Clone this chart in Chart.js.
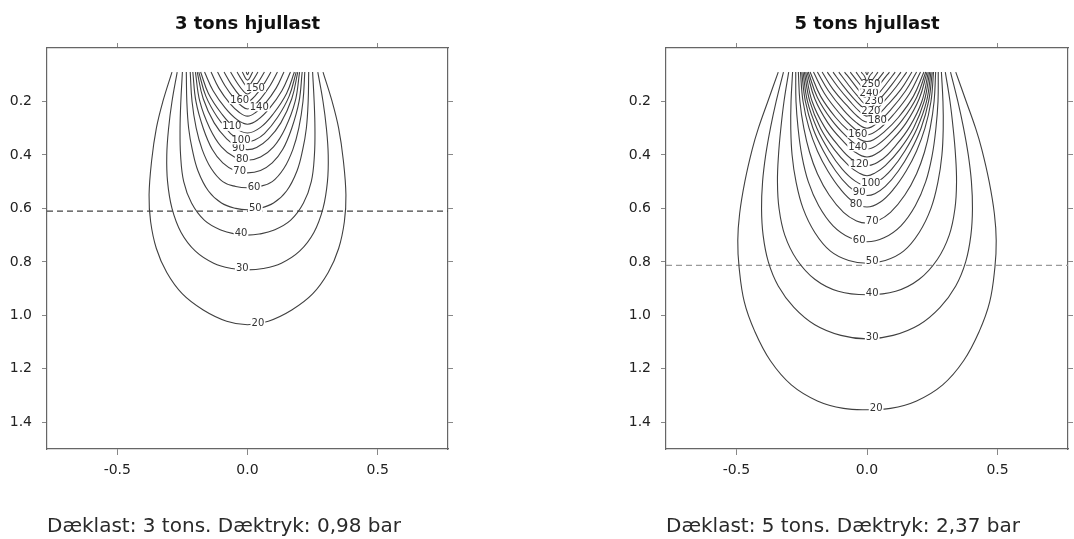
<!DOCTYPE html>
<html><head><meta charset="utf-8">
<script src="https://cdn.jsdelivr.net/npm/chart.js@4.4.1/dist/chart.umd.min.js"></script>
<style>
html,body{margin:0;padding:0;background:#fff;}
#wrap{position:relative;width:1074px;height:539px;overflow:hidden;}
canvas{position:absolute;top:0;}
</style></head><body>
<div id="wrap">
<canvas id="c1" width="537" height="539" style="left:0"></canvas>
<canvas id="c2" width="537" height="539" style="left:537px"></canvas>
</div>
<script>
// ---------- data ----------
const xTicks = [-0.5, 0.0, 0.5];
const yTicks = [0.2, 0.4, 0.6, 0.8, 1.0, 1.2, 1.4];
const xRange = [-0.77, 0.77];
const yRange = [0, 1.5];

const titles = ['3 tons hjullast', '5 tons hjullast'];
const captions = ['Dæklast: 3 tons. Dæktryk: 0,98 bar', 'Dæklast: 5 tons. Dæktryk: 2,37 bar'];
const dashDepth = [0.61, 0.813];

// contour levels and half-profiles [halfWidth, depth] from surface end to centre line
const leftLevels = [20,30,40,50,60,70,80,90,100,110,120,130,140,150,160,170,180,190];
const leftProfiles = [
  [[0.29,0.09],[0.325,0.2],[0.35,0.3],[0.368,0.42],[0.378,0.55],[0.372,0.65],[0.35,0.75],[0.31,0.84],[0.25,0.92],[0.17,0.98],[0.08,1.022],[0,1.035]],
  [[0.27,0.09],[0.29,0.2],[0.303,0.3],[0.31,0.4],[0.307,0.5],[0.29,0.6],[0.255,0.69],[0.2,0.76],[0.13,0.805],[0.06,0.825],[0,0.83]],
  [[0.25,0.09],[0.256,0.2],[0.259,0.3],[0.257,0.4],[0.245,0.5],[0.215,0.58],[0.165,0.645],[0.1,0.682],[0.045,0.696],[0,0.70]],
  [[0.235,0.09],[0.233,0.2],[0.226,0.3],[0.212,0.38],[0.19,0.46],[0.15,0.535],[0.1,0.58],[0.045,0.6],[0,0.605]],
  [[0.22,0.09],[0.213,0.2],[0.197,0.3],[0.174,0.38],[0.14,0.45],[0.095,0.5],[0.045,0.518],[0,0.523]],
  [[0.21,0.09],[0.198,0.2],[0.17,0.3],[0.135,0.38],[0.095,0.43],[0.05,0.458],[0,0.467]],
  [[0.2,0.09],[0.183,0.2],[0.145,0.3],[0.1,0.37],[0.05,0.408],[0,0.42]],
  [[0.193,0.09],[0.17,0.19],[0.128,0.28],[0.08,0.34],[0.035,0.372],[0,0.38]],
  [[0.187,0.09],[0.16,0.18],[0.115,0.26],[0.065,0.32],[0.028,0.344],[0,0.35]],
  [[0.18,0.09],[0.15,0.17],[0.1,0.245],[0.05,0.297],[0,0.318]],
  [[0.165,0.09],[0.132,0.16],[0.085,0.225],[0.04,0.268],[0,0.285]],
  [[0.14,0.09],[0.11,0.15],[0.068,0.207],[0.03,0.242],[0,0.255]],
  [[0.115,0.09],[0.087,0.14],[0.05,0.19],[0.02,0.219],[0,0.228]],
  [[0.09,0.09],[0.063,0.135],[0.03,0.178],[0,0.2]],
  [[0.065,0.09],[0.04,0.13],[0.015,0.162],[0,0.172]],
  [[0.04,0.09],[0.02,0.122],[0,0.145]],
  [[0.02,0.09],[0,0.12]],
  [[0.005,0.09],[0,0.1]]
];
const leftLabelText = ['20','30','40','50','60','70','80','90','100','110','140','160','150'];
const leftLabelX    = [0.04,-0.02,-0.025,0.03,0.025,-0.03,-0.02,-0.035,-0.025,-0.06,0.045,-0.03,0.03];
const leftLabelY    = [1.03,0.826,0.695,0.60,0.52,0.463,0.417,0.376,0.346,0.295,0.222,0.195,0.15];

const rightLevels = [20,30,40,50,60,70,80,90,100,110,120,130,140,150,160,170,180,190,200,210,220,230,240,250,260];
const rightProfiles = [
  [[0.34,0.09],[0.38,0.2],[0.416,0.3],[0.44,0.38],[0.468,0.5],[0.488,0.62],[0.495,0.72],[0.49,0.82],[0.47,0.95],[0.43,1.06],[0.37,1.17],[0.29,1.26],[0.19,1.32],[0.09,1.348],[0,1.353]],
  [[0.32,0.09],[0.348,0.2],[0.37,0.3],[0.388,0.4],[0.4,0.5],[0.404,0.6],[0.398,0.7],[0.378,0.8],[0.34,0.89],[0.28,0.97],[0.2,1.035],[0.1,1.075],[0,1.088]],
  [[0.30,0.09],[0.318,0.2],[0.33,0.3],[0.339,0.4],[0.343,0.5],[0.337,0.6],[0.315,0.7],[0.27,0.79],[0.2,0.865],[0.11,0.91],[0,0.923]],
  [[0.285,0.09],[0.291,0.2],[0.292,0.3],[0.287,0.4],[0.272,0.5],[0.245,0.6],[0.2,0.69],[0.14,0.76],[0.07,0.795],[0,0.805]],
  [[0.273,0.09],[0.272,0.2],[0.264,0.3],[0.25,0.4],[0.225,0.5],[0.185,0.59],[0.13,0.665],[0.065,0.71],[0,0.725]],
  [[0.263,0.09],[0.257,0.2],[0.242,0.3],[0.22,0.39],[0.19,0.47],[0.145,0.55],[0.09,0.615],[0.04,0.647],[0,0.655]],
  [[0.255,0.09],[0.245,0.2],[0.222,0.3],[0.19,0.385],[0.15,0.46],[0.1,0.53],[0.05,0.577],[0,0.595]],
  [[0.25,0.09],[0.236,0.2],[0.207,0.3],[0.167,0.385],[0.12,0.46],[0.07,0.518],[0.03,0.545],[0,0.552]],
  [[0.245,0.09],[0.228,0.2],[0.192,0.3],[0.145,0.385],[0.095,0.453],[0.045,0.498],[0,0.515]],
  [[0.24,0.09],[0.219,0.2],[0.178,0.3],[0.125,0.38],[0.07,0.44],[0.03,0.468],[0,0.478]],
  [[0.235,0.09],[0.21,0.2],[0.163,0.295],[0.11,0.365],[0.06,0.415],[0,0.44]],
  [[0.23,0.09],[0.2,0.19],[0.15,0.28],[0.095,0.345],[0.045,0.39],[0,0.408]],
  [[0.225,0.09],[0.19,0.185],[0.135,0.27],[0.08,0.33],[0.035,0.366],[0,0.378]],
  [[0.218,0.09],[0.178,0.18],[0.12,0.26],[0.065,0.315],[0.025,0.343],[0,0.35]],
  [[0.205,0.09],[0.163,0.17],[0.105,0.245],[0.05,0.3],[0,0.325]],
  [[0.19,0.09],[0.148,0.16],[0.092,0.23],[0.042,0.278],[0,0.30]],
  [[0.172,0.09],[0.13,0.155],[0.077,0.215],[0.035,0.257],[0,0.277]],
  [[0.152,0.09],[0.112,0.145],[0.065,0.2],[0.028,0.238],[0,0.255]],
  [[0.13,0.09],[0.095,0.137],[0.055,0.185],[0.022,0.218],[0,0.233]],
  [[0.108,0.09],[0.077,0.13],[0.04,0.175],[0,0.212]],
  [[0.086,0.09],[0.06,0.122],[0.03,0.16],[0,0.19]],
  [[0.064,0.09],[0.042,0.118],[0.02,0.145],[0,0.168]],
  [[0.042,0.09],[0.024,0.115],[0,0.146]],
  [[0.022,0.09],[0.01,0.105],[0,0.124]],
  [[0.005,0.09],[0,0.1]]
];
const rightLabelText = ['20','30','40','50','60','70','80','90','100','120','140','160','180','220','230','240','250'];
const rightLabelX    = [0.035,0.02,0.02,0.02,-0.03,0.02,-0.042,-0.03,0.015,-0.03,-0.035,-0.035,0.04,0.015,0.027,0.008,0.015];
const rightLabelY    = [1.348,1.083,0.918,0.80,0.718,0.65,0.585,0.54,0.508,0.435,0.372,0.322,0.272,0.236,0.2,0.168,0.138];

// ---------- build ----------
const FONT = '"DejaVu Sans", sans-serif';
function buildContour(profile){
  const left = profile.map(p => ({x: -p[0], y: p[1]}));
  const right = profile.slice(0, -1).reverse().map(p => ({x: p[0], y: p[1]}));
  return left.concat(right);
}
function makeChart(id, idx, levels, profiles, lblT, lblX, lblY, dashColor, pad){
  const datasets = profiles.map((p, i) => ({
    label: String(levels[i]),
    data: buildContour(p),
    showLine: true, tension: 0.4, borderColor: '#404040', borderWidth: 1.1,
    pointRadius: 0, fill: false
  }));
  datasets.push({
    label: 'dash',
    data: [{x: xRange[0], y: dashDepth[idx]}, {x: xRange[1], y: dashDepth[idx]}],
    showLine: true, borderColor: dashColor, borderWidth: 1.2, borderDash: [6, 4], pointRadius: 0, fill: false
  });
  const labelPlugin = {
    id: 'contourLabels' + idx,
    afterDatasetsDraw(chart){
      const {ctx, scales} = chart;
      ctx.save();
      ctx.font = '10px ' + FONT;
      ctx.textAlign = 'center'; ctx.textBaseline = 'middle';
      lblT.forEach((t, i) => {
        const px = scales.x.getPixelForValue(lblX[i]);
        const py = scales.y.getPixelForValue(lblY[i]);
        const w = ctx.measureText(t).width;
        ctx.fillStyle = '#fff';
        ctx.fillRect(px - w/2 - 1, py - 4, w + 2, 8);
        ctx.fillStyle = '#333';
        ctx.fillText(t, px, py);
      });
      ctx.restore();
    }
  };
  const setX = s => { s.ticks = xTicks.map(v => ({value: v})); };
  const setY = s => { s.ticks = yTicks.map(v => ({value: v})); };
  const tickFont = {family: FONT, size: 14};
  return new Chart(document.getElementById(id), {
    type: 'scatter',
    data: {datasets},
    plugins: [labelPlugin],
    options: {
      responsive: false, animation: false, devicePixelRatio: 1,
      layout: {padding: pad},
      plugins: {
        legend: {display: false}, tooltip: {enabled: false},
        title: {display: true, text: titles[idx], fullSize: false, color: '#111',
          font: {family: FONT, size: 18, weight: 'bold'}, padding: {top: 13.2, bottom: 7.2}},
        subtitle: {display: true, position: 'bottom', align: 'start', fullSize: false, text: captions[idx], color: '#2a2a2a',
          font: {family: FONT, size: 20, weight: 'normal'}, padding: {top: 26, bottom: 0}}
      },
      scales: {
        x: {type: 'linear', position: 'bottom', min: xRange[0], max: xRange[1],
          afterBuildTicks: setX, afterFit: s => { s.height = 40; },
          ticks: {callback: v => v.toFixed(1), font: tickFont, color: '#222', padding: 7, maxRotation: 0, autoSkip: false},
          grid: {drawOnChartArea: false, drawTicks: true, tickLength: 6, color: '#888'},
          border: {display: true, color: '#666', width: 1.2}},
        x2: {type: 'linear', position: 'top', min: xRange[0], max: xRange[1],
          afterBuildTicks: setX, afterFit: s => { s.height = 6; },
          ticks: {display: false},
          grid: {drawOnChartArea: false, drawTicks: true, tickLength: 5, color: '#888'},
          border: {display: true, color: '#666', width: 1.2}},
        y: {type: 'linear', position: 'left', reverse: true, min: yRange[0], max: yRange[1],
          afterBuildTicks: setY, afterFit: s => { s.width = 47; },
          ticks: {callback: v => v.toFixed(1), font: tickFont, color: '#222', padding: 10, autoSkip: false},
          grid: {drawOnChartArea: false, drawTicks: true, tickLength: 5, color: '#888'},
          border: {display: true, color: '#666', width: 1.2}},
        y2: {type: 'linear', position: 'right', reverse: true, min: yRange[0], max: yRange[1],
          afterBuildTicks: setY, afterFit: s => { s.width = 6; },
          ticks: {display: false},
          grid: {drawOnChartArea: false, drawTicks: true, tickLength: 5, color: '#888'},
          border: {display: true, color: '#666', width: 1.2}}
      }
    }
  });
}
makeChart('c1', 0, leftLevels, leftProfiles, leftLabelText, leftLabelX, leftLabelY, '#444', {left: 0, right: 83, top: 0, bottom: 0});
makeChart('c2', 1, rightLevels, rightProfiles, rightLabelText, rightLabelX, rightLabelY, '#9a9a9a', {left: 82, right: 0, top: 0, bottom: 0});
</script>
</body></html>
